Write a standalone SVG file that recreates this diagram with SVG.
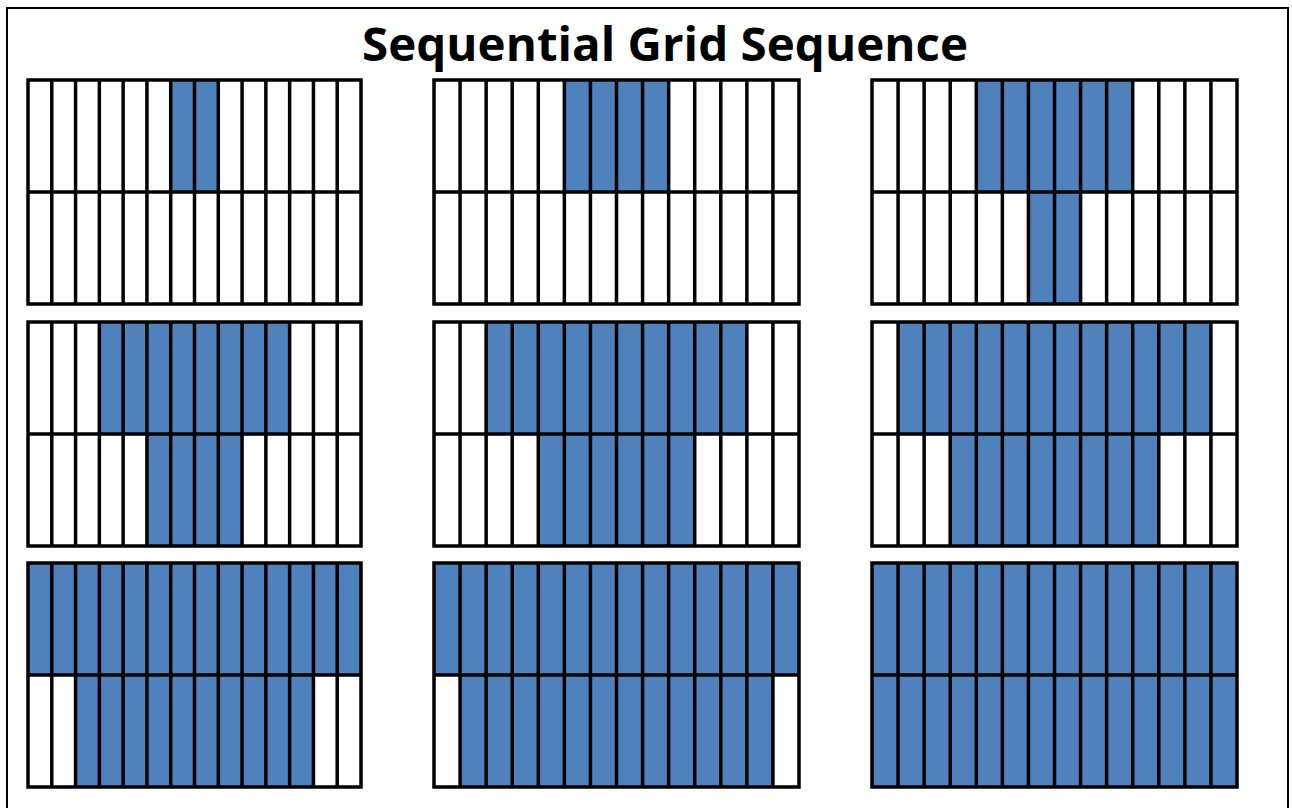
<svg xmlns="http://www.w3.org/2000/svg" xmlns:xlink="http://www.w3.org/1999/xlink" width="1292" height="808" viewBox="0 0 1292 808">
<style>
.bg{fill:#ffffff}
.on{fill:#4F81BD}
.grid{fill:none;stroke:#000000;stroke-width:3.5;stroke-linejoin:miter}
.frame{fill:#ffffff;stroke:#000000;stroke-width:2}
.title{font-family:"Open Sans","Liberation Sans",sans-serif;font-weight:bold;font-size:46px;fill:#000000}
</style>
<defs>
<path id="gridA" class="grid" d="M0,0H333V224H0Z M0,112H333 M23.79,0V224 M47.57,0V224 M71.36,0V224 M95.14,0V224 M118.93,0V224 M142.71,0V224 M166.5,0V224 M190.29,0V224 M214.07,0V224 M237.86,0V224 M261.64,0V224 M285.43,0V224 M309.21,0V224"/>
<path id="gridB" class="grid" d="M0,0H365V224H0Z M0,112H365 M26.07,0V224 M52.14,0V224 M78.21,0V224 M104.29,0V224 M130.36,0V224 M156.43,0V224 M182.5,0V224 M208.57,0V224 M234.64,0V224 M260.71,0V224 M286.79,0V224 M312.86,0V224 M338.93,0V224"/>
</defs>
<rect class="frame" x="7" y="8" width="1281" height="812"/>
<text class="title" x="665" y="61" text-anchor="middle" textLength="606" lengthAdjust="spacingAndGlyphs">Sequential Grid Sequence</text>

<g id="panel1" transform="translate(28,80)">
<rect class="bg" width="333" height="224"/>
<rect class="on" x="142.71" y="0" width="47.57" height="112"/>
<use xlink:href="#gridA"/>
</g>
<g id="panel2" transform="translate(434,80)">
<rect class="bg" width="365" height="224"/>
<rect class="on" x="130.36" y="0" width="104.29" height="112"/>
<use xlink:href="#gridB"/>
</g>
<g id="panel3" transform="translate(872,80)">
<rect class="bg" width="365" height="224"/>
<rect class="on" x="104.29" y="0" width="156.43" height="112"/>
<rect class="on" x="156.43" y="112" width="52.14" height="112"/>
<use xlink:href="#gridB"/>
</g>

<g id="panel4" transform="translate(28,322)">
<rect class="bg" width="333" height="224"/>
<rect class="on" x="71.36" y="0" width="190.29" height="112"/>
<rect class="on" x="118.93" y="112" width="95.14" height="112"/>
<use xlink:href="#gridA"/>
</g>
<g id="panel5" transform="translate(434,322)">
<rect class="bg" width="365" height="224"/>
<rect class="on" x="52.14" y="0" width="260.71" height="112"/>
<rect class="on" x="104.29" y="112" width="156.43" height="112"/>
<use xlink:href="#gridB"/>
</g>
<g id="panel6" transform="translate(872,322)">
<rect class="bg" width="365" height="224"/>
<rect class="on" x="26.07" y="0" width="312.86" height="112"/>
<rect class="on" x="78.21" y="112" width="208.57" height="112"/>
<use xlink:href="#gridB"/>
</g>

<g id="panel7" transform="translate(28,563)">
<rect class="bg" width="333" height="224"/>
<rect class="on" x="0" y="0" width="333" height="112"/>
<rect class="on" x="47.57" y="112" width="237.86" height="112"/>
<use xlink:href="#gridA"/>
</g>
<g id="panel8" transform="translate(434,563)">
<rect class="bg" width="365" height="224"/>
<rect class="on" x="0" y="0" width="365" height="112"/>
<rect class="on" x="26.07" y="112" width="312.86" height="112"/>
<use xlink:href="#gridB"/>
</g>
<g id="panel9" transform="translate(872,563)">
<rect class="bg" width="365" height="224"/>
<rect class="on" x="0" y="0" width="365" height="224"/>
<use xlink:href="#gridB"/>
</g>
<g id="connectors"/>
</svg>
